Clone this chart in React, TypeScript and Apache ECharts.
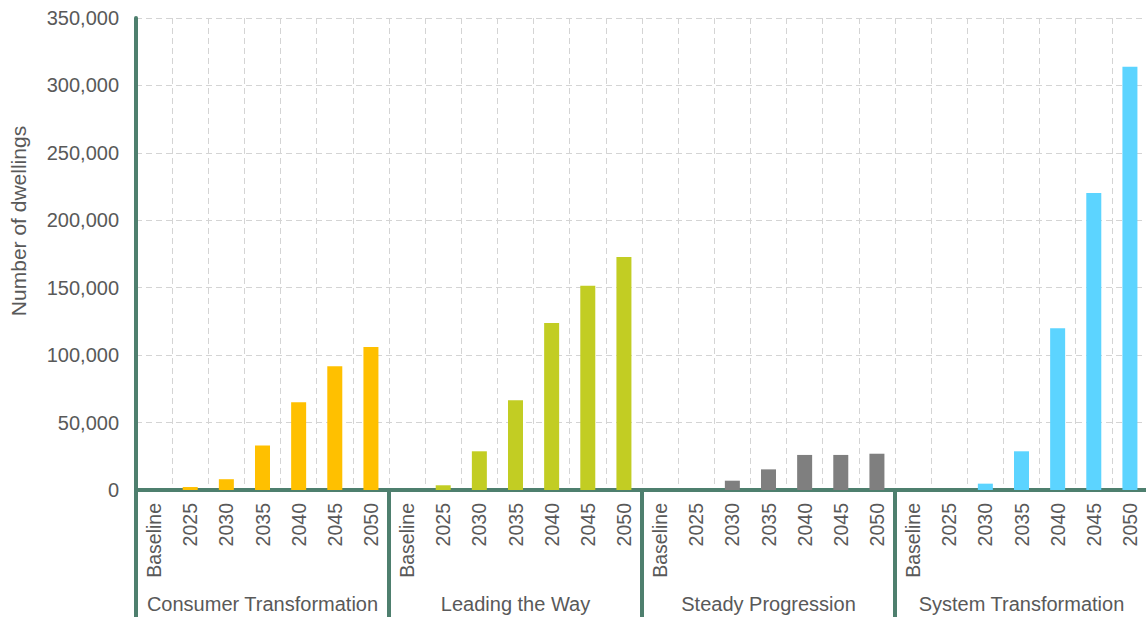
import React, { useEffect, useRef } from "react";
import * as echarts from "echarts";

// Scenario groups and the years shown under each
const scenarios = [
  "Consumer Transformation",
  "Leading the Way",
  "Steady Progression",
  "System Transformation",
];
const years = ["Baseline", "2025", "2030", "2035", "2040", "2045", "2050"];

// Number of dwellings per scenario, one value per year
const consumerTransformation = [0, 2200, 8000, 33000, 65000, 91800, 106000];
const leadingTheWay = [0, 3500, 28700, 66500, 123800, 151500, 172800];
const steadyProgression = [0, 0, 6900, 15300, 26000, 26000, 26900];
const systemTransformation = [0, 0, 4700, 28700, 120000, 220300, 313800];

const scenarioColors = ["#FFC000", "#C2CD23", "#7F7F7F", "#5CD4FF"];

const yTicks = { min: 0, max: 350000, interval: 50000 };

const AXIS_GREEN = "#4E7F6E";
const TEXT_GREY = "#595959";
const GRID_GREY = "#D4D4D4";
const FONT = "'Liberation Sans', Arial, sans-serif";

export default function App() {
  const ref = useRef<HTMLDivElement>(null);

  useEffect(() => {
    if (!ref.current) return;
    const chart = echarts.init(ref.current, null, { renderer: "svg" });

    const groups = [
      consumerTransformation,
      leadingTheWay,
      steadyProgression,
      systemTransformation,
    ];
    const categories: string[] = [];
    const barData: any[] = [];
    groups.forEach((vals, g) => {
      vals.forEach((v, i) => {
        categories.push(years[i]);
        barData.push({ value: v, itemStyle: { color: scenarioColors[g] } });
      });
    });

    chart.setOption({
      animation: false,
      grid: { left: 136, right: 2, top: 18, bottom: 127, containLabel: false },
      xAxis: [
        {
          type: "category",
          data: categories,
          position: "bottom",
          boundaryGap: true,
          axisLine: { show: true, lineStyle: { color: AXIS_GREEN, width: 4 } },
          axisTick: { show: false },
          axisLabel: {
            interval: 0,
            rotate: 90,
            margin: 13,
            color: TEXT_GREY,
            fontSize: 19.5,
            fontFamily: FONT,
          },
          splitLine: {
            show: true,
            interval: 0,
            showMinLine: false,
            lineStyle: { color: GRID_GREY, type: [6, 4], width: 1 },
          },
        },
        {
          type: "category",
          data: scenarios,
          position: "bottom",
          boundaryGap: true,
          axisLine: { show: false },
          axisTick: {
            show: true,
            interval: 0,
            length: 127,
            lineStyle: { color: AXIS_GREEN, width: 4 },
          },
          axisLabel: {
            interval: 0,
            margin: 104,
            color: TEXT_GREY,
            fontSize: 20,
            fontFamily: FONT,
          },
          splitLine: { show: false },
        },
      ],
      yAxis: {
        type: "value",
        min: yTicks.min,
        max: yTicks.max,
        interval: yTicks.interval,
        axisLine: {
          show: true,
          onZero: false,
          lineStyle: { color: AXIS_GREEN, width: 4 },
        },
        axisTick: { show: false },
        axisLabel: {
          margin: 17,
          color: TEXT_GREY,
          fontSize: 20,
          fontFamily: FONT,
          formatter: (v: number) => v.toLocaleString("en-US"),
        },
        splitLine: {
          show: true,
          showMinLine: false,
          lineStyle: { color: GRID_GREY, type: [6, 4], width: 1 },
        },
      },
      graphic: [
        {
          type: "text",
          x: 18,
          y: 221,
          rotation: Math.PI / 2,
          style: {
            text: "Number of dwellings",
            fill: TEXT_GREY,
            font: `21px ${FONT}`,
            textAlign: "center",
            textVerticalAlign: "middle",
          },
        },
      ],
      series: [
        {
          type: "bar",
          xAxisIndex: 0,
          data: barData,
          barWidth: 15,
        },
      ],
    });

    return () => chart.dispose();
  }, []);

  return (
    <div style={{ position: "fixed", left: 0, top: 0, width: 1146, height: 617, overflow: "hidden", background: "#fff" }}>
      <div ref={ref} style={{ width: 1150, height: 617 }} />
    </div>
  );
}
